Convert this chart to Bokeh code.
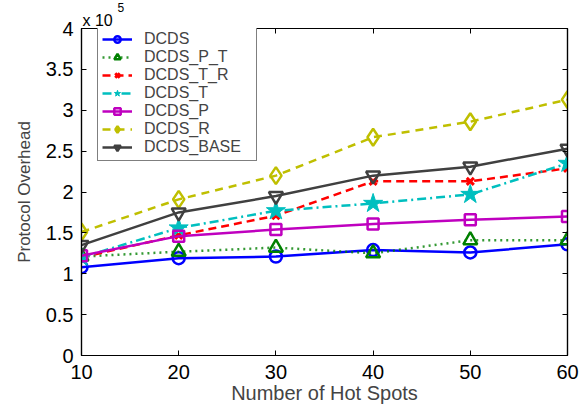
from bokeh.plotting import figure
from bokeh.models import (LinearAxis, FixedTicker, Range1d, Legend, Title)
from bokeh.embed import file_html
from bokeh.resources import INLINE

hot_spots = [10, 20, 30, 40, 50, 60]
# Protocol overhead in units of 1e5
dcds = [1.08, 1.19, 1.21, 1.29, 1.26, 1.36]
dcds_p_t = [1.21, 1.27, 1.32, 1.25, 1.41, 1.41]
dcds_t_r = [1.20, 1.47, 1.71, 2.13, 2.13, 2.29]
dcds_t = [1.20, 1.56, 1.77, 1.86, 1.97, 2.35]
dcds_p = [1.22, 1.46, 1.54, 1.61, 1.66, 1.70]
dcds_r = [1.51, 1.91, 2.20, 2.67, 2.86, 3.13]
dcds_base = [1.35, 1.75, 1.95, 2.20, 2.31, 2.53]

x_ticks = [10, 20, 30, 40, 50, 60]
y_ticks = [0, 0.5, 1, 1.5, 2, 2.5, 3, 3.5, 4]
y_tick_labels = ["0", "0.5", "1", "1.5", "2", "2.5", "3", "3.5", "4"]

FONT = "Liberation Sans"

p = figure(width=586, height=406, output_backend="svg", toolbar_location=None,
           x_range=Range1d(10, 60), y_range=Range1d(0, 4), title=None,
           min_border_left=81, min_border_right=19, min_border_top=28,
           min_border_bottom=51)
p.xgrid.visible = False
p.ygrid.visible = False
p.outline_line_color = "black"
p.outline_line_width = 1.2
p.background_fill_color = "white"
p.border_fill_color = "white"

def style_axis(ax, labels=True):
    ax.axis_line_color = "black"
    ax.axis_line_width = 1.2
    ax.major_tick_in = 5
    ax.major_tick_out = 0
    ax.minor_tick_in = 0
    ax.minor_tick_out = 0
    ax.major_tick_line_color = "black"
    ax.major_label_text_font = FONT
    ax.major_label_text_font_size = "20px"
    ax.major_label_text_color = "black"
    if not labels:
        ax.major_label_text_font_size = "0px"
        ax.major_label_text_alpha = 0
        ax.major_label_standoff = 0

xa = p.xaxis[0]
ya = p.yaxis[0]
xa.ticker = FixedTicker(ticks=x_ticks)
ya.ticker = FixedTicker(ticks=y_ticks)
ya.major_label_overrides = {t: s for t, s in zip(y_ticks, y_tick_labels)}
style_axis(xa)
style_axis(ya)
xa.major_label_standoff = 9
ya.major_label_standoff = 8
xa.axis_label = "Number of Hot Spots"
ya.axis_label = "Protocol Overhead"
xa.axis_label_text_font = FONT
ya.axis_label_text_font = FONT
xa.axis_label_text_font_style = "normal"
ya.axis_label_text_font_style = "normal"
xa.axis_label_text_font_size = "20px"
ya.axis_label_text_font_size = "17px"
xa.axis_label_standoff = 0
ya.axis_label_standoff = 9

ra = LinearAxis(ticker=FixedTicker(ticks=y_ticks))
style_axis(ra, labels=False)
p.add_layout(ra, "right")
ta = LinearAxis(ticker=FixedTicker(ticks=x_ticks))
style_axis(ta, labels=False)
p.add_layout(ta, "above")

items = []
LW = 2.5

r1 = p.line(hot_spots, dcds, color="#0000ff", line_width=LW)
m1 = p.scatter(hot_spots, dcds, marker="circle", size=12, line_color="#0000ff",
               fill_color=None, line_width=2.5)
items.append(("DCDS", [r1, m1]))

r2 = p.line(hot_spots, dcds_p_t, color="#008000", line_width=LW, line_dash="2 4",
            line_alpha=0.8)
m2 = p.scatter(hot_spots, dcds_p_t, marker="triangle", size=14, line_color="#008000",
               fill_color=None, line_width=2.5)
items.append(("DCDS_P_T", [r2, m2]))

r3 = p.line(hot_spots, dcds_t_r, color="#ff0000", line_width=LW, line_dash="8 5")
m3 = p.scatter(hot_spots, dcds_t_r, marker="x", size=10, line_color="#ff0000",
               line_width=3)
items.append(("DCDS_T_R", [r3, m3]))

r4 = p.line(hot_spots, dcds_t, color="#00bfbf", line_width=LW, line_dash="9 4 2 4")
m4 = p.scatter(hot_spots, dcds_t, marker="star", size=20, line_color="#00bfbf",
               fill_color="#00bfbf", line_width=1)
items.append(("DCDS_T", [r4, m4]))

r5 = p.line(hot_spots, dcds_p, color="#bf00bf", line_width=LW)
m5 = p.scatter(hot_spots, dcds_p, marker="square", size=11, line_color="#bf00bf",
               fill_color=None, line_width=2.5)
items.append(("DCDS_P", [r5, m5]))

r6 = p.line(hot_spots, dcds_r, color="#bfbf00", line_width=LW, line_dash="8 6")
m6 = p.scatter(hot_spots, dcds_r, marker="diamond", size=17, line_color="#bfbf00",
               fill_color=None, line_width=2.5)
items.append(("DCDS_R", [r6, m6]))

r7 = p.line(hot_spots, dcds_base, color="#404040", line_width=LW)
m7 = p.scatter(hot_spots, dcds_base, marker="inverted_triangle", size=14,
               line_color="#404040", fill_color=None, line_width=2.5)
items.append(("DCDS_BASE", [r7, m7]))

legend = Legend(items=items, location=(16, 194))
legend.label_text_font = FONT
legend.label_text_font_size = "16px"
legend.label_height = 16
legend.label_width = 108
legend.glyph_height = 16
legend.glyph_width = 30
legend.spacing = 0
legend.padding = 4
legend.margin = 0
legend.label_standoff = 12
legend.border_line_color = "black"
legend.border_line_width = 1.2
legend.background_fill_alpha = 1
p.add_layout(legend, "center")

t_base = Title(text="x 10", align="left", offset=1, standoff=0,
               text_font=FONT, text_font_size="16px", text_font_style="normal",
               text_color="black")
t_exp = Title(text="5", align="left", offset=36, standoff=-5,
              text_font=FONT, text_font_size="12px", text_font_style="normal",
              text_color="black")
p.add_layout(t_base, "above")
p.add_layout(t_exp, "above")

open("out.html", "w").write(file_html(p, INLINE))
